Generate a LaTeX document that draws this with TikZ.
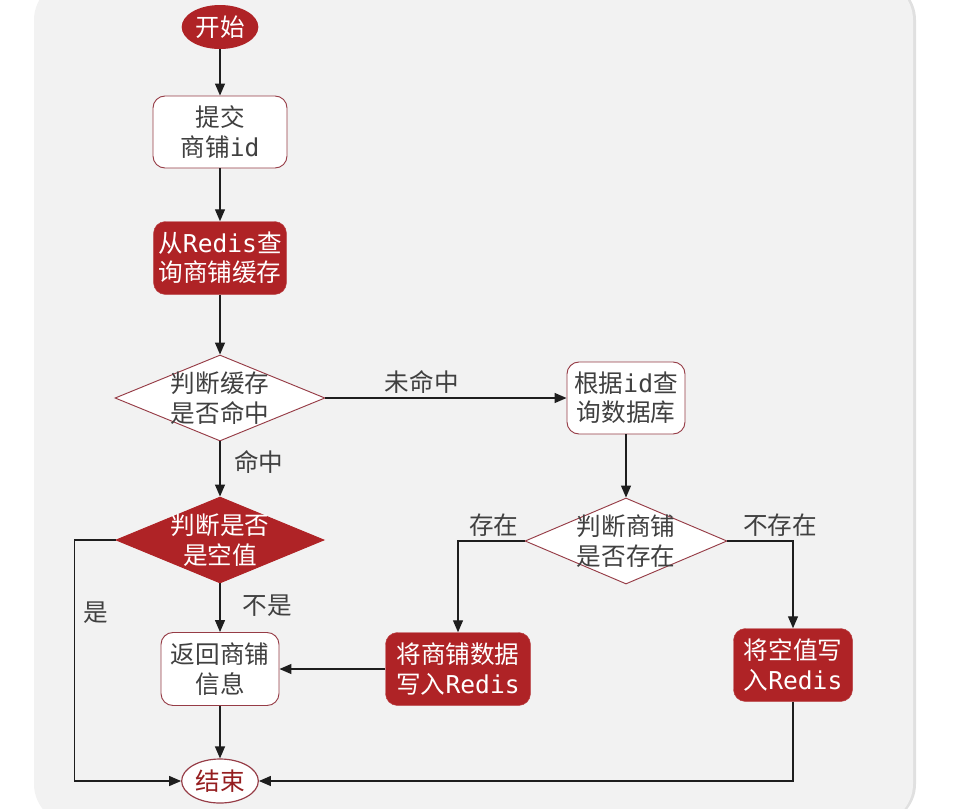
\documentclass[tikz,border=0pt]{standalone}
\usepackage{fontspec}
\setmainfont{Noto Sans CJK SC}
\newfontfamily\monofont{DejaVu Sans Mono}
\newcommand{\en}[1]{{\monofont #1}}
\usetikzlibrary{shapes.geometric,arrows.meta}
\definecolor{panelgray}{RGB}{242,242,242}
\definecolor{boxred}{RGB}{175,35,38}
\definecolor{edgered}{RGB}{150,60,70}
\definecolor{txtgray}{RGB}{64,64,64}
\definecolor{linegray}{RGB}{30,30,30}

\begin{document}
\begin{tikzpicture}[
        x=0.03cm, y=-0.03cm,
        every node/.style={font=\fontsize{21}{25}\selectfont, align=center},
        plain/.style={rectangle, rounded corners=0.36cm, draw=edgered, line width=0.8pt, fill=white, text=txtgray, minimum height=2.16cm, inner sep=0pt},
        redbox/.style={rectangle, rounded corners=0.36cm, draw=boxred!85!white, fill=boxred, text=white, minimum height=2.19cm, inner sep=0pt},
        decision/.style={diamond, draw=edgered, line width=0.8pt, fill=white, minimum height=2.58cm, inner sep=0pt},
        terminal/.style={ellipse, minimum width=2.3cm, minimum height=1.32cm, inner sep=0pt},
        flow/.style={draw=linegray, line width=1.1pt, -{Triangle[length=0.36cm, width=0.3cm]}},
        lbl/.style={text=txtgray, inner sep=3pt}
    ]
        % panel
        \useasboundingbox (0,0) rectangle (962,808);
        \fill[black!12, rounded corners=1.2cm] (37,-20) rectangle (916,824);
        \fill[panelgray, rounded corners=1.2cm] (34,-20) rectangle (913,824);

        \node[terminal, fill=boxred, text=white] (start) at (220,27) {开始};
        \node[plain, minimum width=4.02cm] (submit) at (220,132) {提交\\商铺\en{id}};
        \node[redbox, minimum width=3.99cm] (query) at (220,258) {从\en{Redis}查\\询商铺缓存};
        \node[decision, minimum width=6.3cm, label={[text=txtgray]center:判断缓存\\是否命中}] (hit) at (220,398) {};
        \node[plain, minimum width=3.54cm] (db) at (626,398) {根据\en{id}查\\询数据库};
        \node[decision, fill=boxred, draw=boxred, minimum width=6.24cm, label={[text=white]center:判断是否\\是空值}] (empty) at (220,540) {};
        \node[decision, minimum width=6.06cm, label={[text=txtgray]center:判断商铺\\是否存在}] (exist) at (626,541) {};
        \node[plain, minimum width=3.54cm, minimum height=2.19cm] (ret) at (220,669) {返回商铺\\信息};
        \node[redbox, minimum width=4.35cm] (save) at (458,669) {将商铺数据\\写入\en{Redis}};
        \node[redbox, minimum width=3.57cm] (savenull) at (793,665) {将空值写\\入\en{Redis}};
        \node[terminal, draw=edgered, line width=1pt, fill=white, text=boxred!85!black] (end) at (220,781) {结束};

        \draw[flow] (start) -- (submit);
        \draw[flow] (submit) -- (query);
        \draw[flow] (query) -- (hit);
        \draw[flow] (hit) -- node[lbl, above, pos=0.4] {未命中} (db);
        \draw[flow] (hit) -- node[lbl, right, pos=0.38, xshift=0.3cm] {命中} (empty);
        \draw[flow] (empty) -- node[lbl, right, pos=0.45, xshift=0.55cm] {不是} (ret);
        \draw[flow] (empty.west) -- ++(-41,0) |- node[lbl, right, pos=0.15, xshift=0.15cm] {是} (end.west);
        \draw[flow] (ret) -- (end);
        \draw[flow] (db) -- (exist);
        \draw[flow] (exist.west) -| node[lbl, above, pos=0.23] {存在} (save.north);
        \draw[flow] (exist.east) -| node[lbl, above, pos=0.4] {不存在} (savenull.north);
        \draw[flow] (save) -- (ret);
        \draw[flow] (savenull.south) |- (end.east);
    \end{tikzpicture}
\end{document}
